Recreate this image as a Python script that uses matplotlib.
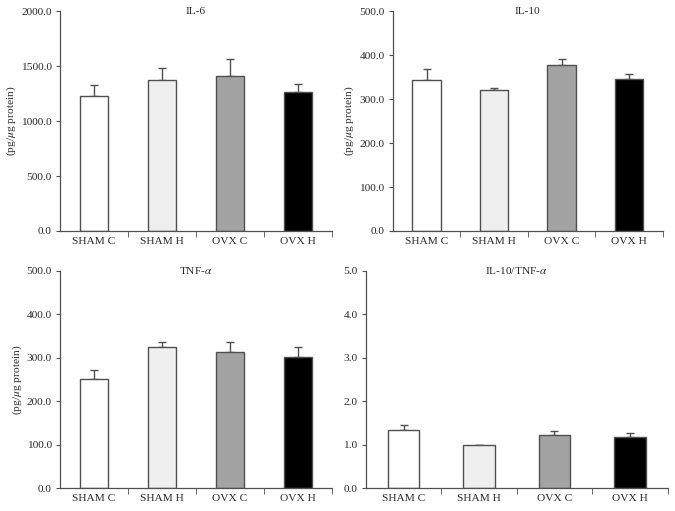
import numpy as np
import matplotlib.pyplot as plt

plt.rcParams['font.family'] = ['Liberation Serif', 'DejaVu Serif']
plt.rcParams['mathtext.fontset'] = 'stix'

groups = ['SHAM C', 'SHAM H', 'OVX C', 'OVX H']
bar_colors = ['#ffffff', '#efefef', '#a3a3a3', '#000000']

# means and upper error (top of error bar minus mean)
il6 = [1227, 1376, 1409, 1261]
il6_err = [106, 103, 158, 78]
il10 = [343, 320, 377, 345]
il10_err = [26, 6, 15, 13]
tnf = [252, 325, 313, 301]
tnf_err = [20, 12, 23, 23]
ratio = [1.33, 0.98, 1.23, 1.17]
ratio_err = [0.12, 0.02, 0.08, 0.10]

panels = [
    ('IL-6', il6, il6_err, 2000, 500, True, [0.089, 0.548, 0.403, 0.430]),
    ('IL-10', il10, il10_err, 500, 100, True, [0.582, 0.548, 0.400, 0.430]),
    (r'TNF-$\alpha$', tnf, tnf_err, 500, 100, True, [0.089, 0.045, 0.403, 0.425]),
    (r'IL-10/TNF-$\alpha$', ratio, ratio_err, 5, 1, False, [0.542, 0.045, 0.447, 0.425]),
]

txt = '#2b2b2b'
edge = '#505050'
fs = 8.2

fig = plt.figure(figsize=(6.75, 5.11), dpi=100)

for title, vals, errs, ymax, step, has_label, pos in panels:
    ax = fig.add_axes(pos)
    x = np.arange(len(groups))
    ax.bar(x, vals, width=0.42, color=bar_colors, edgecolor=edge, linewidth=1.0, zorder=2)
    ax.errorbar(x, vals, yerr=[np.zeros(len(vals)), errs], fmt='none',
                ecolor=edge, elinewidth=1.0, capsize=3, capthick=1.0, zorder=1)
    ax.set_xlim(-0.5, 3.5)
    ax.set_ylim(0, ymax)
    ticks = np.arange(0, ymax + step / 2, step)
    ax.set_yticks(ticks)
    ax.set_yticklabels(['%.1f' % v for v in ticks])
    ax.set_xticks(x)
    ax.set_xticklabels(groups)
    ax.set_xticks([0.5, 1.5, 2.5, 3.5], minor=True)
    ax.tick_params(axis='x', which='major', length=0, pad=4, labelsize=fs, colors=txt)
    ax.tick_params(axis='x', which='minor', length=4, direction='out', color=edge)
    ax.tick_params(axis='y', length=3, direction='out', color=edge, labelsize=fs,
                   labelcolor=txt, pad=3)
    for s in ['top', 'right']:
        ax.spines[s].set_visible(False)
    for s in ['left', 'bottom']:
        ax.spines[s].set_color(edge)
        ax.spines[s].set_linewidth(0.9)
    ax.text(0.5, 1.0, title, transform=ax.transAxes, ha='center', va='center',
            fontsize=fs, color=txt)
    if has_label:
        ax.set_ylabel(r'(pg/$\mu$g protein)', fontsize=fs, color=txt, labelpad=2)

fig.savefig('out.png', dpi=100)
